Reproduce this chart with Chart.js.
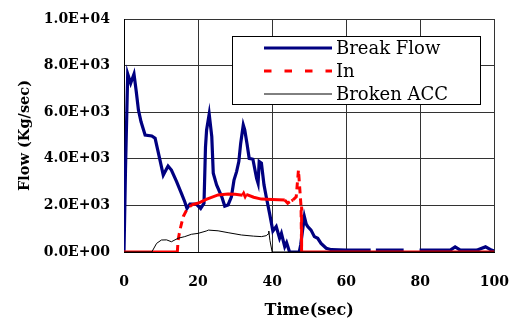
<!DOCTYPE html>
<html>
<head>
<meta charset="utf-8">
<script src="https://cdn.jsdelivr.net/npm/chart.js@4"></script>
<style>
  html, body { margin: 0; padding: 0; background: #fff; }
  canvas { display: block; }
</style>
</head>
<body>
<canvas id="flowChart" width="512" height="322"></canvas>
<script>
// Break Flow (navy, thick)
const breakTime = [0, 0.4, 1.0, 1.8, 2.7, 3.3, 3.9, 4.6, 5.7, 7.5, 8.4, 9.1, 9.7, 10.6, 11.9, 12.8, 14.2, 15.5, 16.4, 17.0, 17.8, 19.5, 20.7, 21.6, 22.0, 22.3, 23.0, 23.7, 24.1, 25.0, 26.4, 27.2, 28.1, 29.0, 29.7, 30.4, 31.0, 31.5, 32.2, 32.6, 33.2, 33.8, 34.8, 35.8, 36.2, 36.5, 37.1, 37.8, 38.4, 39.3, 40.2, 41.1, 42.0, 42.5, 43.4, 43.9, 44.7, 46.0, 47.3, 47.7, 48.7, 49.2, 49.6, 50.5, 51.4, 52.3, 53.2, 54.6, 56.0, 60, 66.6, 67.3, 68.0, 72, 75.5, 77.5, 79.8, 85, 88.1, 89.4, 90.8, 95.2, 97.6, 99.2, 100];
const breakFlow = [0, 3500, 7640, 7240, 7640, 6900, 6090, 5590, 5020, 4980, 4880, 4380, 3950, 3300, 3690, 3520, 3020, 2520, 2160, 1870, 2060, 2060, 1870, 2090, 4500, 5240, 5920, 4950, 3380, 2880, 2370, 1970, 2020, 2370, 3090, 3450, 3880, 4660, 5450, 5240, 4660, 4020, 3980, 3160, 2950, 3880, 3810, 2880, 2370, 1660, 900, 1090, 590, 800, 230, 400, 0, 0, 0, 300, 1520, 1200, 1090, 940, 660, 590, 370, 160, 100, 80, 80, null, 80, 80, 80, null, 80, 80, 80, 220, 80, 80, 220, 80, 40];

// In (red, dashed)
const inTime = [0, 14.4, 14.6, 15.1, 16.0, 16.9, 18.2, 20.4, 22.2, 25.4, 28.1, 30.0, 32.0, 32.3, 32.7, 33.0, 35.0, 37.1, 40.0, 43.4, 44.2, 45.2, 45.6, 46.5, 47.1, 47.8, 47.9, 48.0, 100];
const inFlow = [0, 0, 500, 940, 1520, 1800, 2020, 2120, 2260, 2450, 2490, 2480, 2440, 2520, 2380, 2470, 2350, 2270, 2250, 2230, 2090, 2200, 2230, 2370, 3520, 1950, 500, 0, 0];

// Broken ACC (black, thin)
const accTime = [0, 7.5, 8.8, 10.1, 11.5, 12.8, 14.6, 16.4, 18.2, 20.0, 22.2, 22.8, 25.4, 28.1, 31.7, 35.0, 37.1, 38.4, 38.9, 39.1, 39.4, 40.0, 100];
const accFlow = [0, 0, 370, 515, 520, 440, 590, 660, 760, 800, 900, 940, 910, 830, 730, 680, 660, 700, 770, 900, 500, 0, 0];

const yTickLabels = ['0.0E+00', '2.0E+03', '4.0E+03', '6.0E+03', '8.0E+03', '1.0E+04'];
const xTickLabels = ['0', '20', '40', '60', '80', '100'];

function pts(xs, ys) {
  return xs.map((x, i) => ({ x: x, y: ys[i] }));
}

// boxed legend, drawn inside the plot like the original
const boxLegend = {
  id: 'boxLegend',
  afterDatasetsDraw(chart) {
    const ctx = chart.ctx;
    const rows = chart.data.datasets;
    ctx.save();
    ctx.fillStyle = '#fff';
    ctx.fillRect(232, 36, 248, 68);
    ctx.strokeStyle = '#000';
    ctx.lineWidth = 1;
    ctx.strokeRect(232.5, 36.5, 248, 68);
    ctx.font = '18px "DejaVu Serif"';
    ctx.textBaseline = 'middle';
    ctx.textAlign = 'left';
    rows.forEach((ds, i) => {
      const y = 48 + i * 23;
      ctx.beginPath();
      ctx.strokeStyle = ds.borderColor;
      ctx.lineWidth = ds.borderWidth;
      ctx.setLineDash(ds.legendDash || []);
      ctx.moveTo(264, y);
      ctx.lineTo(332, y);
      ctx.stroke();
      ctx.setLineDash([]);
      ctx.fillStyle = '#000';
      ctx.fillText(ds.label, 336, y + 1);
    });
    ctx.restore();
  }
};

new Chart(document.getElementById('flowChart'), {
  type: 'line',
  data: {
    datasets: [
      {
        label: 'Break Flow',
        data: pts(breakTime, breakFlow),
        borderColor: '#000080',
        borderWidth: 3.2,
        order: 3
      },
      {
        label: 'In',
        data: pts(inTime, inFlow),
        borderColor: '#ff0000',
        borderWidth: 3,
        legendDash: [7.5, 13],
        segment: {
          borderDash: c => Math.abs(c.p1.y - c.p0.y) > Math.abs(c.p1.x - c.p0.x) * 0.6 ? [7, 5] : undefined
        },
        order: 2
      },
      {
        label: 'Broken ACC',
        data: pts(accTime, accFlow),
        borderColor: '#000',
        borderWidth: 1,
        order: 1
      }
    ]
  },
  options: {
    responsive: false,
    animation: false,
    spanGaps: false,
    elements: {
      line: { tension: 0, fill: false, borderCapStyle: 'butt' },
      point: { radius: 0 }
    },
    layout: { padding: { top: 19, right: 16, bottom: 0, left: 0 } },
    plugins: {
      legend: { display: false },
      tooltip: { enabled: false }
    },
    scales: {
      x: {
        type: 'linear',
        min: 0,
        max: 100,
        afterFit: s => { s.height = 70; },
        ticks: {
          stepSize: 20,
          padding: 3,
          color: '#000',
          font: { family: '"DejaVu Serif"', size: 14, weight: 'bold' },
          callback: (v) => xTickLabels[v / 20]
        },
        grid: { color: '#333', lineWidth: 1, drawTicks: true, tickLength: 19, tickColor: 'rgba(0,0,0,0)' },
        border: { color: '#000', width: 1 },
        title: {
          display: true,
          text: 'Time(sec)',
          color: '#000',
          font: { family: '"DejaVu Serif"', size: 16, weight: 'bold' },
          padding: { top: 0, bottom: 2 }
        }
      },
      y: {
        min: 0,
        max: 10000,
        afterFit: s => { s.width = 124; },
        ticks: {
          stepSize: 2000,
          padding: 3,
          color: '#000',
          font: { family: '"DejaVu Serif"', size: 14, weight: 'bold' },
          callback: (v) => yTickLabels[v / 2000]
        },
        grid: { color: '#333', lineWidth: 1, drawTicks: true, tickLength: 11, tickColor: 'rgba(0,0,0,0)' },
        border: { color: '#000', width: 1 },
        title: {
          display: true,
          text: 'Flow (Kg/sec)',
          color: '#000',
          font: { family: '"DejaVu Serif"', size: 14.5, weight: 'bold' },
          padding: { top: 17, bottom: 0 }
        }
      }
    }
  },
  plugins: [boxLegend]
});
</script>
</body>
</html>
